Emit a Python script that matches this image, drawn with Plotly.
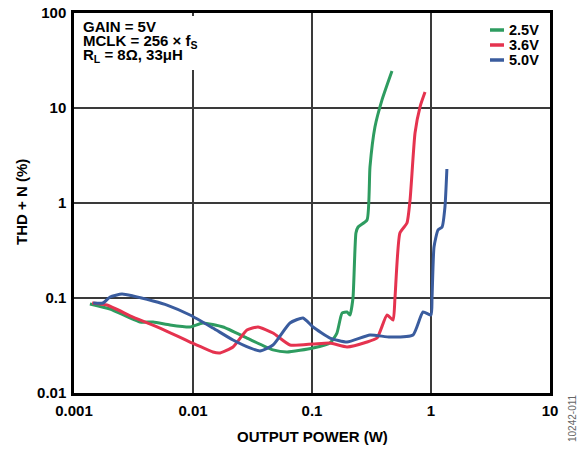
import plotly.graph_objects as go

# ---- data ----
names = ["2.5V", "3.6V", "5.0V"]
colors = ["#2e9c60", "#e5334f", "#3a5c9e"]

x_25 = [0.00136, 0.00201, 0.00359, 0.00462, 0.00641, 0.00944, 0.0121, 0.0179, 0.0284, 0.047,
        0.0617, 0.102, 0.1416, 0.162, 0.179, 0.197, 0.2085, 0.221, 0.234, 0.244, 0.290, 0.307,
        0.338, 0.387, 0.470]
y_25 = [0.0865, 0.0766, 0.0559, 0.0559, 0.052, 0.0495, 0.0546, 0.0495, 0.0379, 0.0284,
        0.027, 0.0298, 0.0336, 0.0428, 0.0695, 0.0713, 0.0662, 0.1, 0.483, 0.559, 0.662, 2.39,
        6.3, 12.1, 24.5]

x_36 = [0.00142, 0.00189, 0.00313, 0.00528, 0.00944, 0.0147, 0.0169, 0.0217, 0.0284, 0.0352,
        0.047, 0.0653, 0.102, 0.1416, 0.197, 0.290, 0.352, 0.427, 0.480, 0.498, 0.548, 0.628,
        0.667, 0.734, 0.809, 0.891]
y_36 = [0.0886, 0.0843, 0.063, 0.0483, 0.0344, 0.027, 0.0264, 0.0305, 0.046, 0.0495,
        0.0428, 0.032, 0.0328, 0.0336, 0.0305, 0.0344, 0.0379, 0.0662, 0.0586, 0.1, 0.483, 0.615,
        1.08, 5.45, 10.3, 14.7]

x_50 = [0.00145, 0.00175, 0.00201, 0.00253, 0.00313, 0.00462, 0.00605, 0.00944, 0.0147, 0.0217,
        0.0301, 0.0366, 0.047, 0.0653, 0.0840, 0.102, 0.1416, 0.197, 0.307, 0.452, 0.706, 0.857,
        1.0, 1.02, 1.06, 1.145, 1.24, 1.31, 1.36]
y_50 = [0.0886, 0.0886, 0.1025, 0.110, 0.105, 0.093, 0.0843, 0.0662, 0.0483, 0.0361,
        0.0298, 0.0277, 0.032, 0.0546, 0.0616, 0.0495, 0.0379, 0.0344, 0.0408, 0.0388, 0.0408, 0.0713,
        0.0662, 0.1, 0.344, 0.52, 0.559, 0.908, 2.28]

x_ticks = [0.001, 0.01, 0.1, 1, 10]
x_ticktext = ["0.001", "0.01", "0.1", "1", "10"]
y_ticks = [0.01, 0.1, 1, 10, 100]
y_ticktext = ["0.01", "0.1", "1", "10", "100"]

FONT = "Liberation Sans, Arial, sans-serif"
L, T, PW, PH = 74, 13, 476, 380


def px(xp):
    return (xp - L) / PW


def py(yp):
    return 1 - (yp - T) / PH


fig = go.Figure()
for xs, ys, nm, c in zip([x_25, x_36, x_50], [y_25, y_36, y_50], names, colors):
    fig.add_trace(go.Scatter(x=xs, y=ys, mode="lines", name=nm,
                             line=dict(color=c, width=3, shape="spline", smoothing=0.5),
                             showlegend=False))

fig.update_layout(
    width=579, height=452,
    margin=dict(l=L, r=579 - L - PW, t=T, b=452 - T - PH, autoexpand=False),
    paper_bgcolor="white", plot_bgcolor="white",
    font=dict(family=FONT, size=15, color="black"),
    showlegend=False,
)
axis_common = dict(showgrid=True, gridcolor="#3a3a3a", gridwidth=1.5,
                   showline=True, linecolor="black", linewidth=2.5, mirror=True,
                   ticks="", ticklabelstandoff=2, zeroline=False, automargin=False,
                   tickfont=dict(family=FONT, size=15, weight="bold"))
fig.update_xaxes(type="log", range=[-3, 1], tickvals=x_ticks, ticktext=x_ticktext, **axis_common)
fig.update_yaxes(type="log", range=[-2, 2], tickvals=y_ticks, ticktext=y_ticktext, **axis_common)

# axis titles
fig.add_annotation(text="<b>OUTPUT POWER (W)</b>", xref="paper", yref="paper",
                   x=0.5, y=py(437), yanchor="middle", xanchor="center", showarrow=False,
                   font=dict(size=15))
fig.add_annotation(text="<b>THD + N (%)</b>", xref="paper", yref="paper",
                   x=px(21), y=py(202), textangle=-90, xanchor="center", yanchor="middle",
                   showarrow=False, font=dict(size=15))

# condition text block (white box hides the grid line behind it)
fig.add_shape(type="rect", xref="paper", yref="paper", x0=px(77), x1=px(196),
              y0=py(70), y1=py(16),
              fillcolor="white", line=dict(width=0), layer="above")
cond_lines = ["<b>GAIN = 5V</b>", "<b>MCLK = 256 × f<sub>S</sub></b>", "<b>R<sub>L</sub> = 8Ω, 33μH</b>"]
cond_y = [26.5, 41, 55.5]
for t, yy in zip(cond_lines, cond_y):
    fig.add_annotation(text=t, xref="paper", yref="paper",
                       x=px(81), y=py(yy),
                       xanchor="left", yanchor="middle", showarrow=False,
                       font=dict(size=15))

# manual legend
for i, (nm, c) in enumerate(zip(names, colors)):
    yp = py(30 + i * 15)
    fig.add_shape(type="line", xref="paper", yref="paper",
                  x0=px(490), x1=px(504), y0=yp, y1=yp,
                  line=dict(color=c, width=3.5))
    fig.add_annotation(text="<b>" + nm + "</b>", xref="paper", yref="paper",
                       x=px(507), y=yp, xanchor="left", yanchor="middle",
                       showarrow=False, font=dict(size=14.5))

# side code
fig.add_annotation(text="10242-011", xref="paper", yref="paper",
                   x=px(572), y=py(418), textangle=-90,
                   xanchor="center", yanchor="middle", showarrow=False,
                   font=dict(size=10, color="#666666"))

fig.write_html("out.html", config={"displayModeBar": False},
               post_script="document.body.style.margin='0';")
